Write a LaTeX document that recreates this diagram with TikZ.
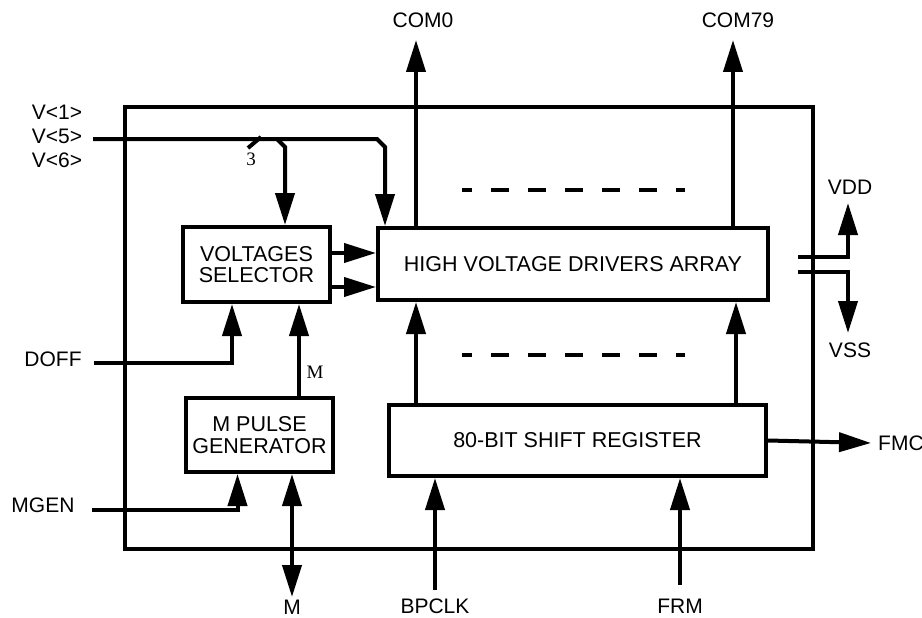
\documentclass[tikz,border=0pt]{standalone}
\usepackage{fontspec}
\setmainfont{Liberation Sans}
\newfontfamily\pinfont{Liberation Serif}
\usetikzlibrary{arrows.meta}
\tikzset{
  block/.style={
    draw,
    line width=4pt,
    align=center,
    inner sep=0pt,
    font=\fontsize{21.5}{21.5}\selectfont,
  },
  signal/.style={
    line width=4pt,
    -{Triangle[length=32pt,width=19pt]},
  },
  both ways/.style={
    line width=4pt,
    {Triangle[length=32pt,width=19pt]}-{Triangle[length=32pt,width=19pt]},
  },
  wire/.style={
    line width=4pt,
  },
  dots row/.style={
    line width=4pt,
    dash pattern=on 18pt off 19pt,
    dash phase=8pt,
  },
  pin/.style={
    font=\fontsize{21}{23.5}\selectfont,
    inner sep=0pt,
  },
  small pin/.style={
    font=\pinfont\fontsize{19}{21}\selectfont,
    inner sep=0pt,
  },
}

\begin{document}
\begin{tikzpicture}[x=1pt,y=-1pt]
        \useasboundingbox (0,0) rectangle (922,618);

        % chip outline and the blocks inside
        \node [block, minimum width=688pt, minimum height=442pt] (chip) at (469,328) {};
        \node [block, minimum width=390pt, minimum height=72pt] (hvda) at (573,264) {HIGH VOLTAGE DRIVERS ARRAY};
        \node [block, minimum width=147pt, minimum height=75pt] (vsel) at (256.5,264.5) {VOLTAGES\\SELECTOR};
        \node [block, minimum width=147pt, minimum height=74pt] (mpg) at (259.5,435) {M PULSE\\GENERATOR};
        \node [block, minimum width=377pt, minimum height=71pt] (sreg) at (577.5,440.5) {80-BIT SHIFT REGISTER};

        % pin names
        \node [pin] (v1) at (57,112) {V<1>};
        \node [pin] (v5) at (57,136) {V<5>};
        \node [pin] (v6) at (57,160) {V<6>};
        \node [pin] (doff) at (53,359) {DOFF};
        \node [pin] (mgen) at (43,505) {MGEN};
        \node [pin] (mpin) at (292,607) {M};
        \node [pin] (bpclk) at (435,606) {BPCLK};
        \node [pin] (frm) at (680,606) {FRM};
        \node [pin, anchor=west] (fmc) at (878,443) {FMC};
        \node [pin] (vdd) at (850,187) {VDD};
        \node [pin] (vss) at (850,350) {VSS};
        \node [pin] (com0) at (423,20) {COM0};
        \node [pin] (com79) at (738,20) {COM79};
        \node [small pin] (buswidth) at (251,159) {3};
        \node [small pin] (mname) at (315,372) {M};

        % free ends of the pin lines
        \coordinate (vin) at (93,139);
        \coordinate (vtap) at (277,139);
        \coordinate (vdrop) at (285,147);
        \coordinate (vbend) at (377,139);
        \coordinate (vturn) at (385,147);
        \coordinate (doffin) at (94,363);
        \coordinate (mgenin) at (92,510);
        \coordinate (mout) at (292,597);
        \coordinate (bpclkin) at (435,590);
        \coordinate (frmin) at (680,585);
        \coordinate (fmctip) at (871,443);
        \coordinate (com0tip) at (416,40);
        \coordinate (com79tip) at (733,40);
        \coordinate (vddin) at (798,257);
        \coordinate (vddtip) at (848,203);
        \coordinate (vssin) at (798,272);
        \coordinate (vsstip) at (848,333);

        % V<1>, V<5>, V<6> bus
        \draw [signal] (vin) -- (vbend) -- (vturn) -- (vturn |- hvda.north);
        \draw [signal] (vtap) -- (vdrop) -- (vdrop |- vsel.north);
        \draw [wire] (248,148) -- (261,137);

        % selector to drivers
        \draw [signal] ([yshift=11.5pt]vsel.east) -- ([yshift=11.5pt]vsel.east -| hvda.west);
        \draw [signal] ([yshift=-22.5pt]vsel.east) -- ([yshift=-22.5pt]vsel.east -| hvda.west);

        % control inputs
        \draw [signal] (doffin) -| ([xshift=-24.5pt]vsel.south);
        \draw [signal] ([xshift=39.5pt]mpg.north) -- ([xshift=39.5pt]mpg.north |- vsel.south);
        \draw [signal] (mgenin) -| ([xshift=-22pt]mpg.south);
        \draw [both ways] (mout) -- (mout |- mpg.south);

        % shift register
        \draw [signal] ([xshift=-161.5pt]sreg.north) -- ([xshift=-161.5pt]sreg.north |- hvda.south);
        \draw [signal] ([xshift=158.5pt]sreg.north) -- ([xshift=158.5pt]sreg.north |- hvda.south);
        \draw [signal] (bpclkin) -- (bpclkin |- sreg.south);
        \draw [signal] (frmin) -- (frmin |- sreg.south);
        \draw [signal] (sreg.east) -- (fmctip);

        % outputs
        \draw [signal] (com0tip |- hvda.north) -- (com0tip);
        \draw [signal] (com79tip |- hvda.north) -- (com79tip);
        \draw [dots row] (462,190) -- (685,190);
        \draw [dots row] (462,355) -- (685,355);

        % supplies
        \draw [signal] (vddin) -| (vddtip);
        \draw [signal] (vssin) -| (vsstip);
    \end{tikzpicture}
\end{document}
